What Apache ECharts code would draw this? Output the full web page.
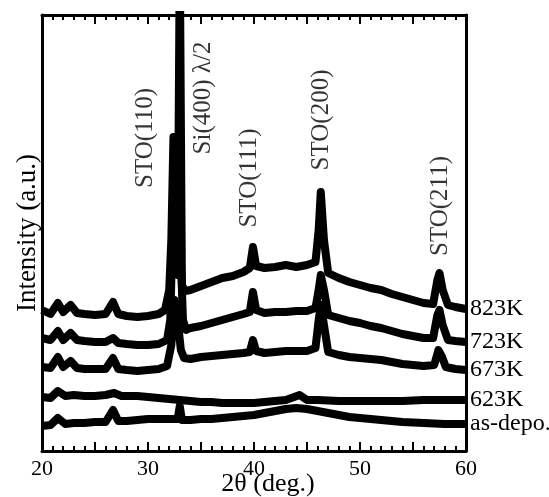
<!DOCTYPE html>
<html>
<head>
<meta charset="utf-8">
<script src="https://cdn.jsdelivr.net/npm/echarts@6/dist/echarts.min.js"></script>
<style>
  html, body { margin: 0; padding: 0; background: #fff; }
  #chart { width: 549px; height: 497px; }
</style>
</head>
<body>
<div id="chart"></div>
<script>
    // 2theta (deg.) vs intensity (a.u., traces already offset)
    var trace823 = [
        [20, 141], [20.8, 137], [21.5, 148], [22, 139], [22.7, 146], [23.3, 138], [24, 137],
        [25, 136], [26, 137], [26.7, 149], [27.2, 137], [28, 135], [29, 134], [30, 135],
        [31, 137], [31.6, 141], [32, 161], [32.2, 211], [32.4, 314], [32.6, 211], [32.8, 176],
        [33, 500], [33.2, 166], [33.5, 160], [34, 161], [35, 165], [36, 169], [37, 173],
        [38, 175], [39, 179], [39.6, 183], [39.9, 204], [40.2, 185], [41, 183], [42, 184],
        [43, 186], [44, 184], [45, 186], [45.8, 189], [46.1, 221], [46.3, 259], [46.6, 211],
        [47, 178], [48, 173], [49, 169], [50, 166], [51, 163], [52, 161], [53, 157], [54, 154],
        [55, 151], [56, 148], [56.9, 147], [57.3, 171], [57.5, 178], [57.8, 161], [58.3, 146],
        [59, 144], [60, 142]
    ];
    var trace723 = [
        [20, 113], [20.8, 111], [21.5, 120], [22, 111], [22.7, 118], [23.3, 111], [24, 110],
        [25, 109], [26, 109], [26.7, 113], [27.2, 108], [28, 107], [29, 106], [30, 106],
        [31, 107], [31.8, 111], [32.1, 131], [32.4, 251], [32.7, 271], [33, 221], [33.3, 131],
        [33.6, 121], [34, 123], [35, 125], [36, 128], [37, 131], [38, 134], [39, 137],
        [39.6, 139], [39.9, 159], [40.2, 141], [41, 138], [42, 139], [43, 139], [44, 140],
        [45, 140], [45.8, 143], [46.1, 161], [46.3, 176], [46.6, 161], [47, 136], [48, 133],
        [49, 130], [50, 128], [51, 125], [52, 123], [53, 120], [54, 117], [55, 115], [56, 113],
        [56.9, 113], [57.3, 136], [57.5, 141], [57.8, 126], [58.3, 111], [59, 110], [60, 109]
    ];
    var trace673 = [
        [20, 84], [20.8, 83], [21.5, 94], [22, 84], [22.7, 90], [23.3, 83], [24, 82],
        [25, 82], [26, 82], [26.7, 93], [27.2, 82], [28, 81], [29, 80], [30, 81], [31, 82],
        [31.8, 85], [32.2, 106], [32.5, 151], [32.8, 131], [33.1, 101], [33.4, 93], [34, 92],
        [35, 94], [36, 95], [37, 96], [38, 97], [39, 98], [39.6, 99], [39.9, 111], [40.2, 100],
        [41, 98], [42, 99], [43, 100], [44, 100], [45, 100], [45.8, 103], [46.1, 131],
        [46.3, 146], [46.6, 126], [47, 99], [48, 96], [49, 94], [50, 93], [51, 92], [52, 91],
        [53, 89], [54, 87], [55, 86], [56, 85], [57, 86], [57.4, 101], [57.7, 95], [58.1, 84],
        [59, 82], [60, 81]
    ];
    var trace623 = [
        [20, 54], [20.8, 53], [21.5, 60], [22.2, 55], [23, 56], [24, 55], [25, 55], [26, 56],
        [26.8, 58], [27.5, 55], [28, 55], [29, 55], [30, 54], [31, 53], [32, 52], [33, 51],
        [34, 50], [35, 49], [36, 49], [37, 48], [38, 48], [39, 48], [40, 48], [41, 49],
        [42, 50], [43, 51], [44.3, 56], [45, 51], [46, 51], [48, 50], [50, 50], [52, 50],
        [54, 50], [56, 51], [58, 51], [60, 51]
    ];
    var traceAsDepo = [
        [20, 25], [20.8, 26], [21.5, 33], [22.2, 27], [23, 28], [24, 28], [25, 29], [26, 29],
        [26.7, 41], [27.2, 30], [28, 30], [29, 31], [30, 32], [31, 32], [32, 32], [32.8, 32],
        [33, 45], [33.2, 31], [34, 31], [35, 32], [36, 32], [37, 33], [38, 34], [39, 35],
        [40, 36], [41, 38], [42, 40], [43, 42], [44, 43], [45, 42], [46, 40], [47, 38],
        [48, 36], [49, 34], [50, 33], [52, 31], [54, 29], [56, 28], [58, 27], [60, 27]
    ];

    var seriesNames = ['823K', '723K', '673K', '623K', 'as-depo.'];
    var seriesData = [trace823, trace723, trace673, trace623, traceAsDepo];

    var peakNames = ['STO(110)', 'Si(400) λ/2', 'STO(111)', 'STO(200)', 'STO(211)'];
    var peakTheta = [29.8, 35.2, 39.6, 46.4, 57.6];
    var peakLevel = [313, 353, 273, 331, 245];

    var xTicks = [20, 30, 40, 50, 60];

    var font = 'Liberation Serif';

    var series = [];
    for (var i = 0; i < seriesNames.length; i++) {
        series.push({
            name: seriesNames[i],
            type: 'line',
            data: seriesData[i],
            showSymbol: false,
            symbol: 'none',
            lineStyle: { color: '#000', width: 8, join: 'round' },
            endLabel: {
                show: true,
                formatter: '{a}',
                distance: 4,
                color: '#000',
                fontFamily: font,
                fontSize: 24
            }
        });
    }

    var peakData = [];
    for (var j = 0; j < peakNames.length; j++) {
        peakData.push({ name: peakNames[j], value: [peakTheta[j], peakLevel[j]] });
    }
    series.push({
        type: 'scatter',
        data: peakData,
        symbolSize: 1,
        itemStyle: { color: 'rgba(0,0,0,0)' },
        label: {
            show: true,
            position: 'inside',
            formatter: '{b}',
            rotate: 90,
            color: '#000',
            fontFamily: font,
            fontSize: 25
        }
    });

    function makeX(pos, showLabels) {
        return {
            type: 'value',
            position: pos,
            min: 20,
            max: 60,
            interval: 5,
            axisLine: { show: true, onZero: false, lineStyle: { color: '#000', width: 3 } },
            axisTick: { show: true, interval: 0, inside: true, length: 9, lineStyle: { color: '#000', width: 2 } },
            minorTick: { show: true, splitNumber: 5, length: 5, lineStyle: { color: '#000', width: 2 } },
            splitLine: { show: false },
            minorSplitLine: { show: false },
            axisLabel: {
                show: showLabels,
                interval: 0,
                color: '#000',
                fontFamily: font,
                fontSize: 22,
                margin: 7,
                formatter: function (v) { return xTicks.indexOf(v) >= 0 ? String(v) : ''; }
            }
        };
    }

    var xBottom = makeX('bottom', true);
    xBottom.name = '2θ (deg.)';
    xBottom.nameLocation = 'middle';
    xBottom.nameGap = 20;
    xBottom.nameMoveOverlap = false;
    xBottom.nameTextStyle = { color: '#000', fontFamily: font, fontSize: 26, padding: [0, 0, 0, 28] };
    var xTop = makeX('top', false);

    var option = {
        animation: false,
        backgroundColor: '#fff',
        grid: { left: 42, right: 83, top: 15, bottom: 46, outerBoundsMode: 'none', containLabel: false },
        xAxis: [xBottom, xTop],
        yAxis: [
            {
                type: 'value',
                min: 0,
                max: 436,
                position: 'left',
                name: 'Intensity (a.u.)',
                nameLocation: 'middle',
                nameGap: 1,
                nameMoveOverlap: false,
                nameTextStyle: { color: '#000', fontFamily: font, fontSize: 27 },
                axisLine: { show: true, onZero: false, lineStyle: { color: '#000', width: 3 } },
                axisTick: { show: false },
                axisLabel: { show: false },
                splitLine: { show: false }
            },
            {
                type: 'value',
                min: 0,
                max: 436,
                position: 'right',
                axisLine: { show: true, onZero: false, lineStyle: { color: '#000', width: 3 } },
                axisTick: { show: false },
                axisLabel: { show: false },
                splitLine: { show: false }
            }
        ],
        series: series
    };

    var chart = echarts.init(document.getElementById('chart'));
    chart.setOption(option);
</script>
</body>
</html>
